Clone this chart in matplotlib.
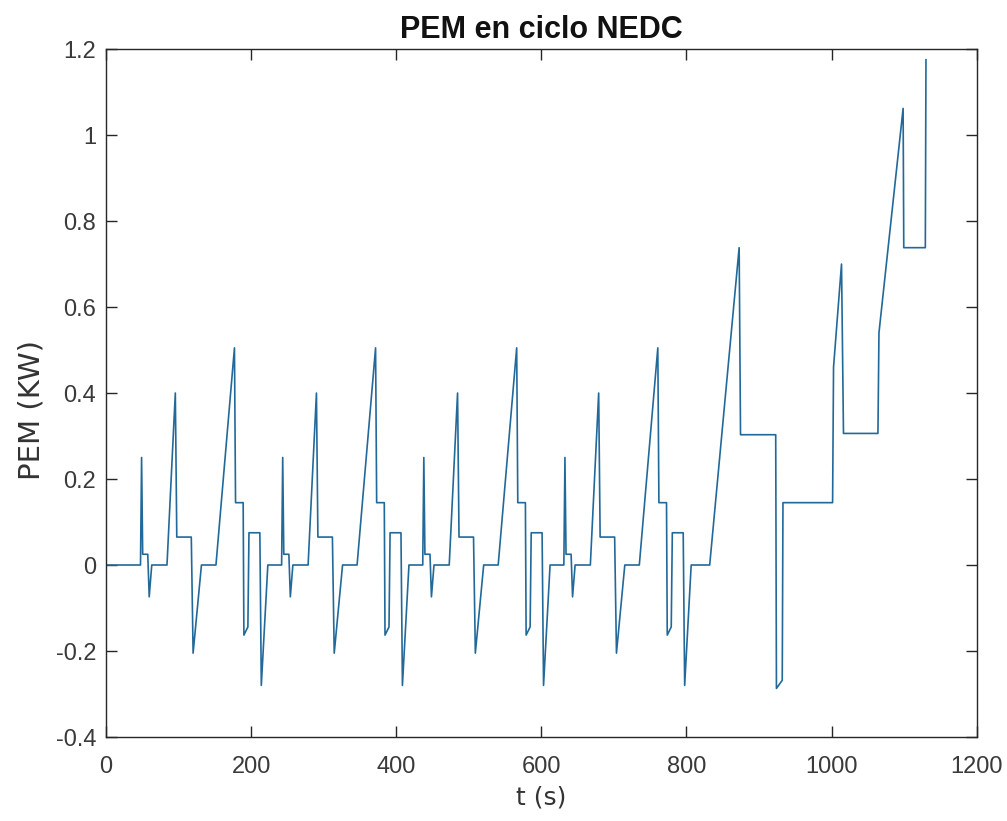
import matplotlib
matplotlib.use("Agg")
import matplotlib.pyplot as plt
import numpy as np

# One urban (ECE-15) sub-cycle: time (s) measured inside the first cycle, power (kW)
urban_t = [47.5, 49.0, 50.5, 57.5, 59.5, 63.0, 84.0, 95.5, 97.5, 117.5, 120.0,
           131.5, 151.5, 177.0, 178.5, 189.0, 190.0, 195.5, 197.0, 212.0, 214.0, 223.0]
urban_p = [0.0, 0.25, 0.025, 0.025, -0.074, 0.0, 0.0, 0.40, 0.065, 0.065, -0.205,
           0.0, 0.0, 0.505, 0.145, 0.145, -0.163, -0.144, 0.075, 0.075, -0.28, 0.0]
# start offset of each of the four urban sub-cycles (s)
urban_offsets = [0.0, 194.5, 389.0, 583.5]

# Extra-urban part (EUDC), absolute time (s) and power (kW)
eudc_t = [832.0, 872.6, 874.5, 923.0, 924.0, 932.0, 933.0, 1001.4, 1002.7, 1013.7,
          1016.4, 1063.9, 1065.3, 1098.6, 1099.5, 1129.2, 1130.1]
eudc_p = [0.0, 0.738, 0.303, 0.303, -0.287, -0.268, 0.145, 0.145, 0.46, 0.70,
          0.306, 0.306, 0.54, 1.062, 0.738, 0.738, 1.175]

t = [0.0]
p = [0.0]
for off in urban_offsets:
    t += [off + v for v in urban_t]
    p += urban_p
t += eudc_t
p += eudc_p
t = np.array(t)
p = np.array(p)

fig = plt.figure(figsize=(10.07, 8.21), dpi=100)
ax = fig.add_axes([0.1053, 0.1023, 0.8646, 0.838])

ax.plot(t, p, color="#22699a", linewidth=1.2)

ax.set_xlim(0, 1200)
ax.set_ylim(-0.4, 1.2)
ax.set_xticks(np.arange(0, 1201, 200))
ax.set_yticks(np.arange(-0.4, 1.21, 0.2))
ax.set_yticklabels(["-0.4", "-0.2", "0", "0.2", "0.4", "0.6", "0.8", "1", "1.2"])

edge = "#262626"
for s in ax.spines.values():
    s.set_color(edge)
    s.set_linewidth(1.0)
ax.tick_params(direction="in", length=8, width=1.0, color=edge,
               top=True, right=True, labelcolor="#3a3a3a")
ax.tick_params(axis="x", pad=14)
ax.tick_params(axis="y", pad=7)
for lab in ax.get_xticklabels() + ax.get_yticklabels():
    lab.set_fontfamily("Liberation Sans")
    lab.set_fontsize(17)

ax.set_title("PEM en ciclo NEDC", fontfamily="Liberation Sans", fontweight="bold",
             fontsize=22, pad=8, color="#111111")
ax.set_xlabel("t (s)", fontfamily="DejaVu Sans", fontsize=18, color="#333333", labelpad=5)
ax.set_ylabel("PEM (KW)", fontfamily="DejaVu Sans", fontsize=21, color="#333333")
ax.yaxis.set_label_coords(-0.069, 0.475)

fig.savefig("out.png", dpi=100, facecolor="white")
